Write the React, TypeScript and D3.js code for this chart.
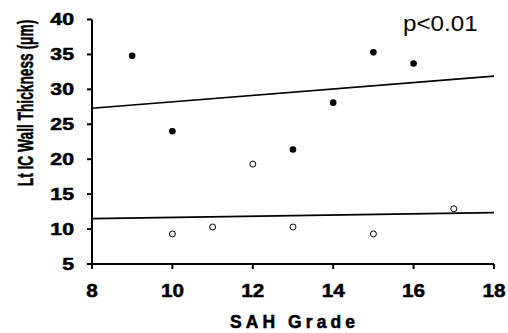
import React, { useEffect, useRef } from 'react';
import * as d3 from 'd3';

// filled dots (upper group)
const filledGrade = [9, 10, 13, 14, 15, 16];
const filledThickness = [34.8, 24.0, 21.4, 28.1, 35.3, 33.7];

// open dots (lower group)
const openGrade = [10, 11, 12, 13, 15, 17];
const openThickness = [9.3, 10.3, 19.3, 10.3, 9.3, 12.9];

// fitted lines, value at grade 8 and 18
const fitGrades = [8, 18];
const filledFit = [27.3, 31.9];
const openFit = [11.5, 12.35];

const xTicks = [8, 10, 12, 14, 16, 18];
const yTicks = [5, 10, 15, 20, 25, 30, 35, 40];

const W = 508;
const H = 333;

const App = () => {
    const svgRef = useRef<SVGSVGElement>(null);

    useEffect(() => {
        const svg = d3.select(svgRef.current);
        svg.selectAll('*').remove();

        const x = d3.scaleLinear().domain([8, 18]).range([92, 494]);
        const y = d3.scaleLinear().domain([5, 40]).range([264, 19.5]);

        const font = "'Liberation Sans', Arial, sans-serif";

        // text drawn at (tx, ty), stretched sideways by sx
        const label = (tx, ty, sx, size, anchor, txt, bold = true, rot = 0) =>
            svg.append('text')
                .attr('transform', `translate(${tx},${ty}) rotate(${rot}) scale(${sx},1)`)
                .attr('text-anchor', anchor)
                .attr('stroke', bold ? '#000' : 'none')
                .attr('stroke-width', bold ? 0.5 : 0)
                .style('font-family', font)
                .style('font-weight', bold ? 'bold' : 'normal')
                .style('font-size', `${size}px`)
                .text(txt);

        // fit lines
        const line = d3
            .line<number>()
            .x((d, i) => x(fitGrades[i]))
            .y(d => y(d));

        [filledFit, openFit].forEach(fit => {
            svg.append('path')
                .datum(fit)
                .attr('fill', 'none')
                .attr('stroke', '#000')
                .attr('stroke-width', 1.6)
                .attr('d', line);
        });

        // y axis
        svg.append('line')
            .attr('x1', x(8)).attr('x2', x(8))
            .attr('y1', y(40)).attr('y2', y(5))
            .attr('stroke', '#000').attr('stroke-width', 2);
        yTicks.forEach(t => {
            svg.append('line')
                .attr('x1', x(8) - 5).attr('x2', x(8))
                .attr('y1', y(t)).attr('y2', y(t))
                .attr('stroke', '#000').attr('stroke-width', 2);
            label(x(8) - 18, y(t) + 5.8, 1.33, 16, 'end', t);
        });

        // x axis
        svg.append('line')
            .attr('x1', x(8)).attr('x2', x(18))
            .attr('y1', y(5)).attr('y2', y(5))
            .attr('stroke', '#000').attr('stroke-width', 2);
        xTicks.forEach(t => {
            svg.append('line')
                .attr('x1', x(t)).attr('x2', x(t))
                .attr('y1', y(5)).attr('y2', y(5) + 5)
                .attr('stroke', '#000').attr('stroke-width', 2);
            label(x(t), y(5) + 33, 1.12, 18.5, 'middle', t);
        });

        // axis titles
        svg.append('text')
            .attr('x', 230)
            .attr('y', 327.5)
            .attr('textLength', 125)
            .attr('lengthAdjust', 'spacing')
            .attr('stroke', '#000')
            .attr('stroke-width', 0.5)
            .style('font-family', font)
            .style('font-weight', 'bold')
            .style('font-size', '17.5px')
            .text('SAH Grade');

        label(33, 103, 0.61, 22.5, 'middle', 'Lt IC Wall Thickness (\u03bcm)', true, -90);

        label(403, 31, 1.1, 22, 'start', 'p<0.01', false);

        // dots
        svg.selectAll('.filled')
            .data(filledGrade)
            .enter()
            .append('circle')
            .attr('class', 'filled')
            .attr('cx', d => x(d))
            .attr('cy', (d, i) => y(filledThickness[i]))
            .attr('r', 3.3)
            .attr('fill', '#000');

        svg.selectAll('.open')
            .data(openGrade)
            .enter()
            .append('circle')
            .attr('class', 'open')
            .attr('cx', d => x(d))
            .attr('cy', (d, i) => y(openThickness[i]))
            .attr('r', 3)
            .attr('fill', '#fff')
            .attr('stroke', '#000')
            .attr('stroke-width', 1);
    }, []);

    return (
        <svg
            ref={svgRef}
            width={W}
            height={H}
            style={{ position: 'absolute', left: 0, top: 0, background: '#fff' }}
        ></svg>
    );
};

export default App;
